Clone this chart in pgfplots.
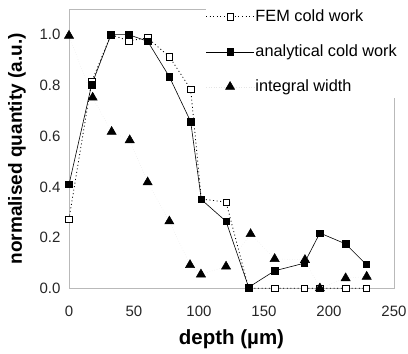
\documentclass[border=0pt]{standalone}
\usepackage{fontspec}
\setmainfont{Liberation Sans}
\usepackage{pgfplots}
\pgfplotsset{compat=1.18}
\begin{document}
\begin{tikzpicture}
\begin{axis}[
  scale only axis, width=325pt, height=279pt,
  xmin=0, xmax=250, ymin=0, ymax=1.1,
  xtick={0,50,100,150,200,250},
  ytick={0,0.2,0.4,0.6,0.8,1.0},
  major tick length=0pt,
  axis line style={draw=gray!55, line width=0.6pt},
  /pgf/number format/assume math mode=true,
  yticklabel style={/pgf/number format/.cd, fixed, fixed zerofill, precision=1},
  tick label style={font=\fontsize{15}{18}\selectfont, text=black!85},
  xticklabel shift=14pt,
  yticklabel shift=5pt,
  xlabel={depth (µm)}, ylabel={normalised quantity (a.u.)},
  xlabel style={font=\fontsize{20.5}{24}\selectfont\bfseries, at={(axis description cs:0.5,-0.183)}, anchor=center},
  ylabel style={font=\fontsize{19}{22}\selectfont\bfseries, at={(axis description cs:-0.16,0.5)}, anchor=center},
  clip=false,
  legend style={draw=none, fill=white, inner sep=0pt, at={(axis description cs:0.42,1.015)}, anchor=north west,
    font=\fontsize{16.3}{19}\selectfont, row sep=18pt, inner ysep=3pt,
    nodes={inner sep=1pt, text height=12pt, text depth=3pt}},
  legend cell align=left,
  legend image code/.code={\draw[mark repeat=2, mark phase=2, #1] plot coordinates {(0pt,0pt) (24pt,0pt) (48pt,0pt)};},
]
\addplot[black, line width=0.8pt, dash pattern=on 1pt off 2.6pt, mark=square*, mark options={solid, fill=white, line width=0.6pt}, mark size=3.2pt]
coordinates {(0,0.273) (17.4,0.814) (32.3,1.0) (45.9,0.976) (60.5,0.987) (77.2,0.913) (93.6,0.785) (101.8,0.352) (120.8,0.340) (138.2,0.0) (158.2,0) (181,0) (193,0) (212.8,0) (228.5,0)};
\addlegendentry{FEM cold work}
\addplot[black, line width=0.6pt, mark=square*, mark options={solid, fill=black}, mark size=3.2pt]
coordinates {(0,0.409) (17.4,0.802) (32.3,1.0) (45.9,1.0) (60.5,0.974) (77.2,0.834) (93.6,0.657) (101.8,0.350) (120.8,0.264) (138.2,0.004) (158.2,0.069) (181,0.099) (193,0.218) (212.8,0.175) (228.5,0.095)};
\addlegendentry{analytical cold work}
\addplot[gray!20, line width=0.5pt, dotted, mark=triangle*, mark options={solid, fill=black, draw=black}, mark size=5.3pt]
coordinates {(0,0.996) (18.2,0.752) (32.8,0.617) (46.7,0.584) (60.5,0.418) (77.2,0.264) (93.1,0.092) (101.5,0.055) (120.8,0.086) (139.7,0.214) (158.2,0.116) (181.5,0.112) (193,0.0) (212.8,0.04) (229,0.046)};
\addlegendentry{integral width}
\end{axis}
\pgfresetboundingbox
\path[use as bounding box] (-69pt,-65.7pt) rectangle (339pt,288.3pt);
\end{tikzpicture}
\end{document}
